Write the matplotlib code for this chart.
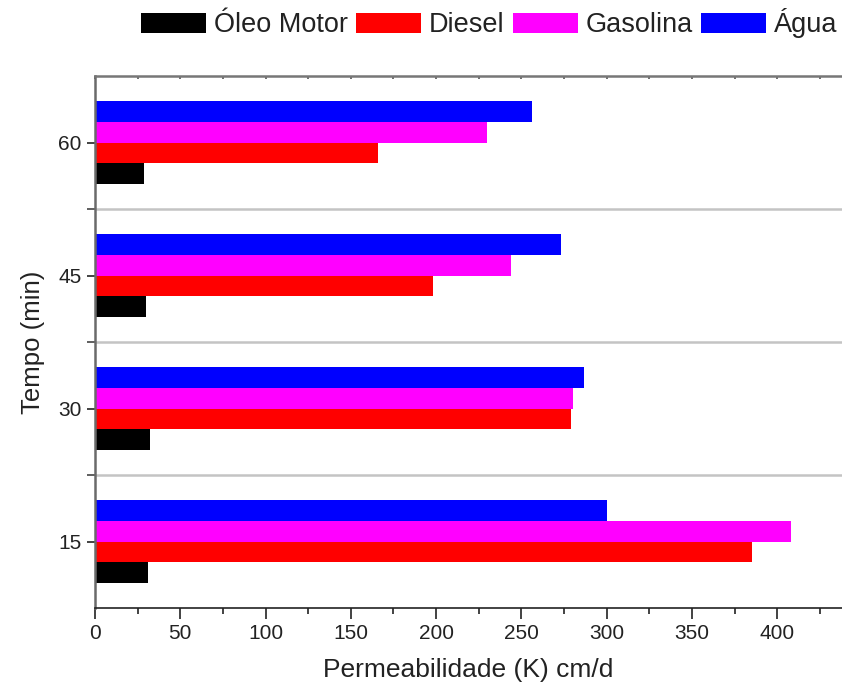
import matplotlib
matplotlib.use("Agg")
import matplotlib.pyplot as plt
import numpy as np

plt.rcParams['font.family'] = ['Liberation Sans', 'DejaVu Sans']

tempos = [15, 30, 45, 60]
series_names = ["Óleo Motor", "Diesel", "Gasolina", "Água"]
oleo_motor = [31, 32, 30, 29]
diesel = [385, 279, 198, 166]
gasolina = [408, 280, 244, 230]
agua = [300, 287, 273, 256]
colors = ["#000000", "#FF0000", "#FF00FF", "#0000FF"]
xticks = [0, 50, 100, 150, 200, 250, 300, 350, 400]

fig = plt.figure(figsize=(8.42, 6.85), dpi=100)
ax = fig.add_axes([0.1128, 0.1124, 0.8872, 0.7766])

h = 2.34
y = np.array(tempos, dtype=float)
data = [oleo_motor, diesel, gasolina, agua]
offsets = [-1.5, -0.5, 0.5, 1.5]
handles = []
for vals, off, c, name in zip(data, offsets, colors, series_names):
    b = ax.barh(y + off * h, vals, height=h, color=c, label=name, linewidth=0)
    handles.append(b)

ax.set_xlim(0, 438)
ax.set_ylim(7.5, 67.5)

# separator lines
for s in [22.5, 37.5, 52.5]:
    ax.axhline(s, color="#c4c4c4", lw=1.8, zorder=0)

ax.set_yticks(tempos)
ax.set_yticklabels([str(t) for t in tempos])
ax.set_yticks([22.5, 37.5, 52.5], minor=True)
ax.set_xticks(xticks)
ax.set_xticks(np.arange(25, 438, 50), minor=True)

ax.spines["right"].set_visible(False)
ax.spines["left"].set_color("#6a6a6a")
ax.spines["left"].set_linewidth(1.8)
ax.spines["bottom"].set_color("#222222")
ax.spines["bottom"].set_linewidth(1.2)
ax.spines["top"].set_color("#777777")
ax.spines["top"].set_linewidth(1.8)

ax.tick_params(axis="x", which="major", direction="out", length=8, width=1.2,
               labelsize=15, colors="#222222", top=False)
ax.tick_params(axis="x", which="minor", direction="out", length=4, width=1.2,
               colors="#222222", top=False)
ax.tick_params(axis="y", which="major", direction="out", length=6, width=1.2,
               labelsize=15, colors="#222222")
ax.tick_params(axis="y", which="minor", direction="out", length=6, width=1.2,
               colors="#444444")

# faint inward ticks on the top axis
top = ax.secondary_xaxis("top")
top.set_xticks(xticks)
top.set_xticks(np.arange(25, 438, 50), minor=True)
top.tick_params(which="both", direction="in", length=2.5, width=1.2,
                colors="#555555", labeltop=False)
top.spines["top"].set_visible(False)

for lbl in ax.get_xticklabels() + ax.get_yticklabels():
    lbl.set_color("#222222")

ax.set_xlabel("Permeabilidade (K) cm/d", fontsize=19, color="#222222", labelpad=11)
ax.set_ylabel("Tempo (min)", fontsize=18.5, color="#222222", labelpad=10)

leg = fig.legend(handles=handles, labels=series_names, loc="center",
                 bbox_to_anchor=(0.581, 0.966), ncol=4, frameon=False,
                 fontsize=19.5, handlelength=2.4, handleheight=0.8,
                 handletextpad=0.3, columnspacing=0.3, borderaxespad=0)
for t in leg.get_texts():
    t.set_color("#222222")

fig.savefig("out.png", dpi=100)
